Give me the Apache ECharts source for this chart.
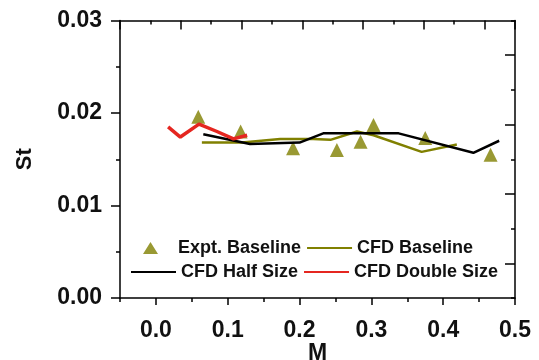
<!DOCTYPE html>
<html>
<head>
<meta charset="utf-8">
<script src="https://cdn.jsdelivr.net/npm/echarts@6/dist/echarts.min.js"></script>
<style>
  html, body { margin: 0; padding: 0; background: #fff; }
  #chart { width: 539px; height: 360px; }
</style>
</head>
<body>
<div id="chart"></div>
<script>
// 数据
const exptM = [0.059, 0.118, 0.191, 0.252, 0.285, 0.303, 0.375, 0.466]
const exptSt = [0.0196, 0.0180, 0.0162, 0.0160, 0.0169, 0.0187, 0.0173, 0.0155]

const baseM = [0.064, 0.12, 0.173, 0.219, 0.243, 0.28, 0.303, 0.37, 0.419]
const baseSt = [0.0168, 0.0168, 0.0172, 0.0172, 0.0171, 0.0180, 0.0176, 0.0158, 0.0166]

const halfM = [0.066, 0.131, 0.2, 0.233, 0.338, 0.442, 0.478]
const halfSt = [0.0177, 0.01665, 0.0168, 0.0178, 0.0178, 0.0157, 0.0170]

const doubleM = [0.017, 0.034, 0.06, 0.085, 0.108, 0.127]
const doubleSt = [0.0185, 0.0174, 0.0188, 0.0180, 0.0172, 0.0176]

const xTicks = [0, 0.1, 0.2, 0.3, 0.4, 0.5]

const pairs = (xs, ys) => xs.map((x, i) => [x, ys[i]])

const chart = echarts.init(document.getElementById('chart'))

const font = 'Liberation Sans, Arial, sans-serif'
const olive = '#808000'
// v6 默认会把标签收进画布，这里关掉，按像素定网格
const gridBox = { left: 120, right: 24, top: 20.5, bottom: 62, outerBoundsMode: 'none', containLabel: false }
const line = { show: true, onZero: false, lineStyle: { color: '#000', width: 1.5 } }
const noLine = { show: false, onZero: false }
const tickLine = { color: '#000', width: 1.5 }
const legendText = { fontFamily: font, fontWeight: 'bold', fontSize: 18, color: '#111' }
// 图例里折线不画圆点
const hideDot = { color: 'rgba(0,0,0,0)', borderWidth: 0 }
// 三角形图例：前面一段零面积的线把图标撑到 45 宽，三角形居中
const triIcon = 'path://M0,13 L45,13 Z M22.5,1 L30,13 L15,13 Z'

chart.setOption({
  animation: false,
  grid: [
    Object.assign({}, gridBox),
    Object.assign({}, gridBox), // 第二个网格只画短刻度
  ],
  legend: [
    {
      left: 128, top: 239, padding: 0,
      itemWidth: 45, itemHeight: 14, itemGap: 5,
      symbolKeepAspect: true,
      textStyle: legendText,
      data: [
        { name: 'Expt. Baseline', icon: triIcon, itemStyle: { color: olive, borderWidth: 0 } },
        { name: 'CFD Baseline', itemStyle: hideDot },
      ],
    },
    {
      left: 130, top: 263, padding: 0,
      itemWidth: 45, itemHeight: 14, itemGap: 5,
      symbolKeepAspect: true,
      textStyle: legendText,
      data: [
        { name: 'CFD Half Size', itemStyle: hideDot },
        { name: 'CFD Double Size', itemStyle: hideDot },
      ],
    },
  ],
  xAxis: [
    {
      type: 'value', gridIndex: 0, position: 'bottom',
      min: -0.05, max: 0.5, interval: 0.05,
      name: 'M', nameLocation: 'middle', nameGap: 44, nameMoveOverlap: false,
      nameTextStyle: { fontFamily: font, fontWeight: 'bold', fontSize: 23, color: '#111' },
      axisLine: line,
      axisTick: { show: true, length: 7, customValues: xTicks, lineStyle: tickLine },
      axisLabel: {
        customValues: xTicks, margin: 21,
        fontFamily: font, fontWeight: 'bold', fontSize: 23, color: '#111',
        formatter: v => v.toFixed(1),
      },
      splitLine: { show: false },
    },
    {
      type: 'value', gridIndex: 0, position: 'top',
      min: 0, max: 13, interval: 2,
      axisLine: line,
      axisTick: { show: true, inside: true, length: 9, lineStyle: tickLine },
      minorTick: { show: true, splitNumber: 2, length: 4, lineStyle: tickLine },
      axisLabel: { show: false },
      splitLine: { show: false },
    },
    {
      type: 'value', gridIndex: 1, position: 'bottom',
      min: -0.05, max: 0.5, interval: 0.05,
      axisLine: noLine,
      axisTick: { show: true, length: 4, lineStyle: tickLine },
      axisLabel: { show: false },
      splitLine: { show: false },
    },
  ],
  yAxis: [
    {
      type: 'value', gridIndex: 0, position: 'left',
      min: 0, max: 0.03, interval: 0.01,
      name: 'St', nameLocation: 'middle', nameGap: 84, nameMoveOverlap: false,
      nameTextStyle: { fontFamily: font, fontWeight: 'bold', fontSize: 22, color: '#111' },
      axisLine: line,
      axisTick: { show: true, length: 9, lineStyle: tickLine },
      minorTick: { show: true, splitNumber: 2, length: 4, lineStyle: tickLine },
      axisLabel: {
        margin: 18,
        fontFamily: font, fontWeight: 'bold', fontSize: 23, color: '#111',
        formatter: v => v.toFixed(2),
      },
      splitLine: { show: false },
    },
    {
      type: 'value', gridIndex: 0, position: 'right',
      min: 0, max: 8, interval: 1,
      axisLine: line,
      axisTick: { show: true, inside: true, length: 10, customValues: [1, 3, 5, 7], lineStyle: tickLine },
      axisLabel: { show: false },
      splitLine: { show: false },
    },
    {
      type: 'value', gridIndex: 1, position: 'right',
      min: 0, max: 8, interval: 1,
      axisLine: noLine,
      axisTick: { show: true, inside: true, length: 4, lineStyle: tickLine },
      axisLabel: { show: false },
      splitLine: { show: false },
    },
  ],
  series: [
    {
      name: 'Expt. Baseline', type: 'scatter',
      xAxisIndex: 0, yAxisIndex: 0,
      symbol: 'triangle', symbolSize: 14,
      itemStyle: { color: olive },
      data: pairs(exptM, exptSt),
    },
    {
      name: 'CFD Baseline', type: 'line',
      xAxisIndex: 0, yAxisIndex: 0,
      symbol: 'none',
      lineStyle: { color: olive, width: 2.5 },
      itemStyle: { color: olive },
      data: pairs(baseM, baseSt),
    },
    {
      name: 'CFD Half Size', type: 'line',
      xAxisIndex: 0, yAxisIndex: 0,
      symbol: 'none',
      lineStyle: { color: '#000', width: 2.5 },
      itemStyle: { color: '#000' },
      data: pairs(halfM, halfSt),
    },
    {
      name: 'CFD Double Size', type: 'line',
      xAxisIndex: 0, yAxisIndex: 0,
      symbol: 'none',
      lineStyle: { color: '#e52620', width: 3.5 },
      itemStyle: { color: '#e52620' },
      data: pairs(doubleM, doubleSt),
    },
  ],
})
</script>
</body>
</html>
